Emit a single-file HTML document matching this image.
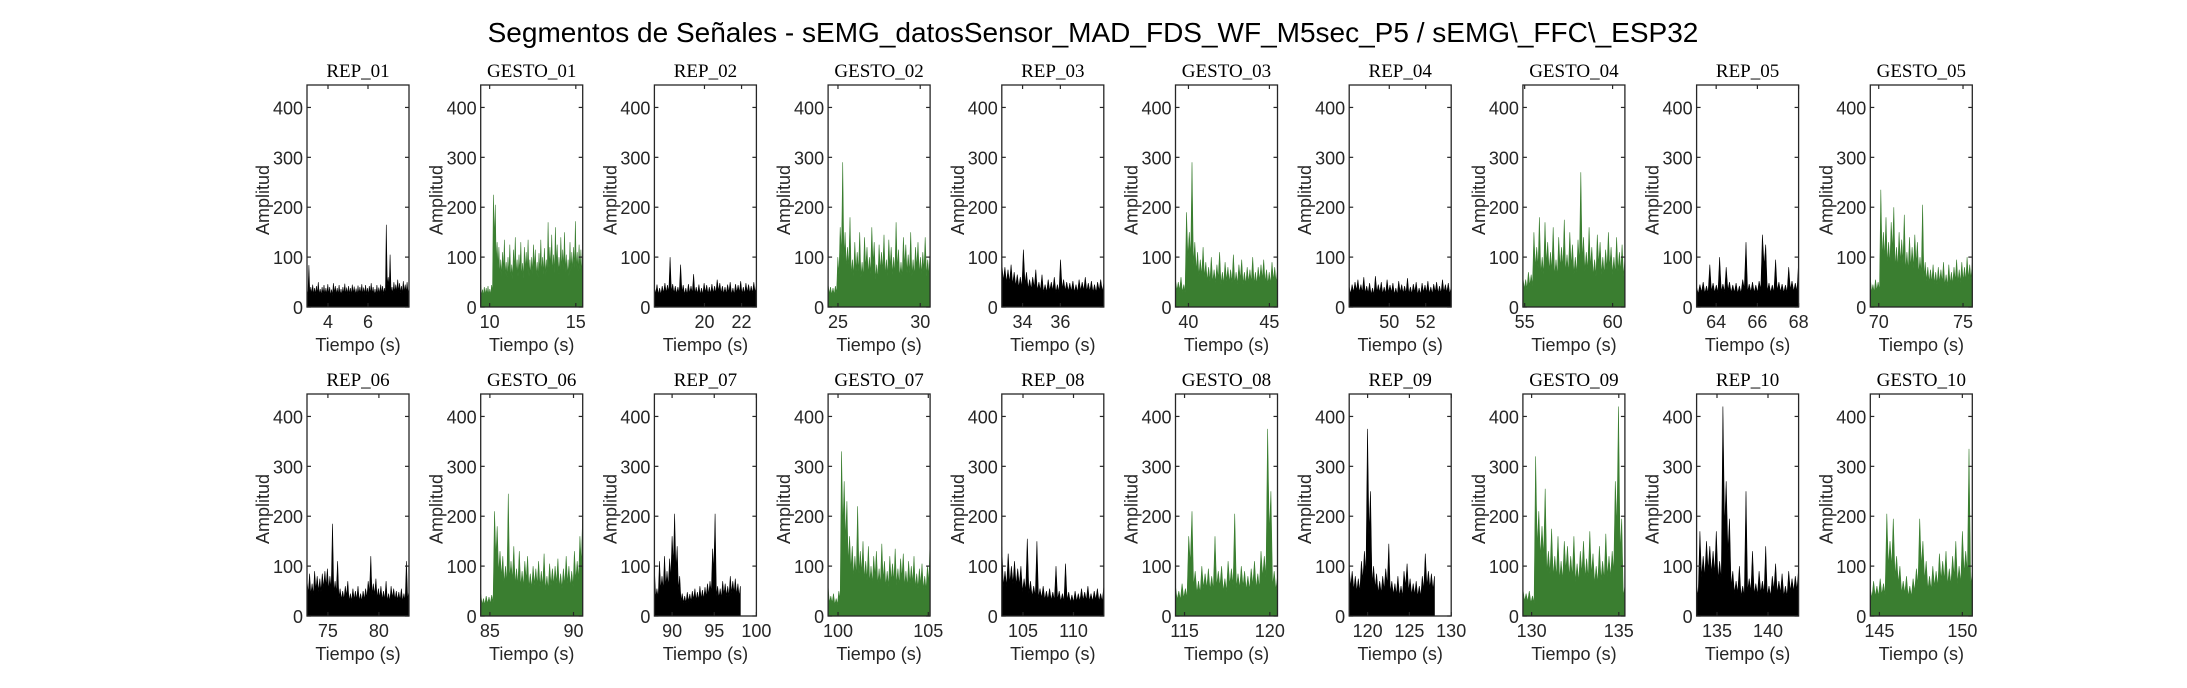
<!DOCTYPE html>
<html><head><meta charset="utf-8"><style>
html,body{margin:0;padding:0;background:#fff;}
svg{display:block;}
</style></head><body>
<svg id="fig" width="2187" height="688" xmlns="http://www.w3.org/2000/svg">
<text x="1093" y="42" text-anchor="middle" font-family="Liberation Sans, sans-serif" font-size="28" fill="#000">Segmentos de Señales - sEMG_datosSensor_MAD_FDS_WF_M5sec_P5 / sEMG\_FFC\_ESP32</text>
</svg>
<script>
const panelNames = ["REP_01","GESTO_01","REP_02","GESTO_02","REP_03","GESTO_03","REP_04","GESTO_04","REP_05","GESTO_05",
"REP_06","GESTO_06","REP_07","GESTO_07","REP_08","GESTO_08","REP_09","GESTO_09","REP_10","GESTO_10"];
const xLimits = [[2.95,8.05],[9.48,15.4],[17.3,22.8],[24.4,30.6],[32.9,38.3],[39.2,45.5],[47.8,53.4],[54.9,60.7],[63.05,68],[69.5,75.55],
[72.95,82.95],[84.45,90.55],[87.9,100],[99.45,105.1],[102.9,113],[114.47,120.45],[117.8,130],[129.5,135.35],[133,143],[144.45,150.6]];
const xTicks = [[4,6],[10,15],[20,22],[25,30],[34,36],[40,45],[50,52],[55,60],[64,66,68],[70,75],
[75,80],[85,90],[90,95,100],[100,105],[105,110],[115,120],[120,125,130],[130,135],[135,140],[145,150]];
const dataEnd = [null,null,null,null,null,null,null,null,null,null,null,null,98.1,null,null,null,128,null,null,null];
const yTicks = [0,100,200,300,400];
const yMax = 445;
const values = [
[35,84,40,45,38,42,50,36,40,44,38,46,40,35,48,42,38,44,36,40,47,39,42,38,45,41,37,43,40,46,39,44,38,42,48,40,36,44,39,45,42,38,165,60,105,40,50,45,55,48,42,52,45,50,40],
[45,35,40,38,42,36,44,225,205,130,120,95,110,135,90,100,125,85,115,140,95,105,130,88,120,110,135,95,100,125,115,90,108,135,100,118,95,170,120,145,105,160,125,100,140,115,150,105,95,130,110,120,172,110,125,115,105],
[40,45,38,42,48,44,100,46,42,40,85,44,38,46,42,66,40,45,38,48,44,40,46,42,55,48,42,40,45,50,38,46,44,52,40,48,45,42,50,44],
[45,40,38,42,100,160,290,150,120,180,95,130,110,150,90,140,120,100,160,130,85,125,110,145,95,135,120,100,170,115,90,140,125,105,150,95,120,130,100,110,140,95,120],
[90,80,75,85,70,65,60,115,70,55,60,75,50,65,45,55,50,60,45,95,55,50,48,52,45,55,50,60,48,52,45,50,55,48],
[55,50,60,45,190,150,290,130,110,95,120,90,80,100,75,85,110,70,90,80,75,105,70,85,95,70,80,75,100,70,80,85,95,75,70,90,80,75],
[40,45,50,55,45,60,42,48,38,62,45,50,40,55,44,48,38,52,45,42,58,40,46,50,38,48,44,52,40,46,50,42,55,45,48,40],
[60,55,70,65,150,120,180,100,170,130,110,160,95,140,120,175,105,150,125,100,135,270,140,110,160,120,95,145,130,100,115,150,120,100,140,110,125,95],
[40,45,50,42,85,48,44,100,46,80,50,44,48,42,55,130,46,50,44,52,145,125,48,44,95,50,46,44,80,52,48,90],
[60,45,55,50,235,150,180,130,170,200,120,150,135,185,110,140,120,145,130,100,205,90,80,75,85,70,80,75,90,65,85,70,80,95,75,90,80,100,85,90],
[70,85,65,90,80,75,85,90,95,80,185,70,110,55,50,60,70,45,55,50,60,45,50,55,70,120,65,75,55,60,50,70,45,60,55,50,48,55,45,110,50],
[45,35,40,38,42,210,180,130,120,100,245,110,140,95,130,90,110,120,85,100,95,110,90,125,80,105,95,100,115,85,95,120,100,90,130,110,160,205],
[95,55,110,80,120,90,115,160,205,140,80,45,40,48,44,50,55,48,60,52,58,65,70,135,205,60,55,70,65,60,80,70,75,65,60],
[60,40,45,35,50,330,270,230,160,140,120,220,130,150,110,140,100,120,130,95,145,110,90,120,105,135,95,115,125,90,110,100,120,85,95,105,80,100,155],
[140,90,125,100,110,95,100,75,155,70,60,150,55,60,50,55,48,100,50,45,105,48,42,50,45,55,48,60,45,50,55,45,58],
[60,50,65,55,160,210,90,70,100,85,95,80,160,90,100,75,110,95,205,85,100,90,80,95,110,85,130,120,375,250,90,80],
[95,90,80,75,110,130,375,250,100,85,70,80,95,145,70,65,80,60,90,105,75,65,70,60,80,125,90,85,80],
[55,45,50,40,320,210,180,255,130,175,120,160,110,150,140,120,160,105,130,150,115,170,125,100,140,110,165,120,130,270,420,195,60],
[60,170,120,150,140,130,170,110,420,270,195,90,70,100,60,250,75,130,65,90,70,140,60,80,105,70,85,60,90,75,80,95],
[55,70,60,75,65,205,150,195,120,100,70,80,60,75,95,195,150,110,80,100,90,125,110,130,95,120,150,100,170,130,335,90]
];

const NS = "http://www.w3.org/2000/svg";
const svg = document.getElementById('fig');
function mk(tag, attrs, parent){
  const e = document.createElementNS(NS, tag);
  for (const k in attrs) e.setAttribute(k, attrs[k]);
  (parent||svg).appendChild(e);
  return e;
}
const AX_W = 102, AX_H = 222, PITCH = 173.7, LEFT0 = 307, TOPS = [85, 394];
panelNames.forEach((name, i) => {
  const col = i % 10, row = Math.floor(i / 10);
  const L = LEFT0 + col * PITCH, T = TOPS[row], B = T + AX_H, R = L + AX_W;
  const [x0, x1] = xLimits[i];
  const sx = v => L + (v - x0) / (x1 - x0) * AX_W;
  const sy = v => B - v / yMax * AX_H;
  const green = name.startsWith('GESTO');
  const color = green ? '#3a7e30' : '#000';
  const g = mk('g', {});
  
  
  // signal area with narrow needle spikes
  const vals = values[i];
  const tEnd = dataEnd[i] !== null ? dataEnd[i] : x1;
  const dt = (tEnd - x0) / (vals.length - 1);
  let pts = [sx(x0).toFixed(1) + ',' + B];
  vals.forEach((v, k) => {
    const t = x0 + dt * k;
    pts.push(sx(t).toFixed(1) + ',' + sy(v).toFixed(1));
    if (k < vals.length - 1) {
      const low = Math.min(v, vals[k + 1]) * 0.65;
      pts.push(sx(t + dt * 0.5).toFixed(1) + ',' + sy(low).toFixed(1));
    }
  });
  pts.push(sx(tEnd).toFixed(1) + ',' + B);
  const area = mk('polygon', {points: pts.join(' '), fill: color, stroke: color, 'stroke-width': 0.6, 'stroke-linejoin': 'miter'}, g);
  
  
  const frame = mk('rect', {x: L, y: T, width: AX_W, height: AX_H, fill: 'none', stroke: '#262626', 'stroke-width': 1.3}, g);
  
  
  yTicks.forEach(v => {
    const y = sy(v);
    mk('line', {x1: L, x2: L + 4, y1: y, y2: y, stroke: '#262626', 'stroke-width': 1.2}, g);
    mk('line', {x1: R - 4, x2: R, y1: y, y2: y, stroke: '#262626', 'stroke-width': 1.2}, g);
    const t = mk('text', {x: L - 4, y: y + 7, 'text-anchor': 'end', 'font-family': 'Liberation Sans, sans-serif', 'font-size': 18, fill: '#262626'}, g);
    
    
    t.textContent = v;
  });
  xTicks[i].forEach(v => {
    const x = sx(v);
    mk('line', {x1: x, x2: x, y1: B, y2: B - 4, stroke: '#262626', 'stroke-width': 1.2}, g);
    mk('line', {x1: x, x2: x, y1: T, y2: T + 4, stroke: '#262626', 'stroke-width': 1.2}, g);
    const t = mk('text', {x: x, y: B + 21, 'text-anchor': 'middle', 'font-family': 'Liberation Sans, sans-serif', 'font-size': 18, fill: '#262626'}, g);
    
    
    t.textContent = v;
  });
  const xl = mk('text', {x: L + AX_W / 2, y: B + 44, 'text-anchor': 'middle', 'font-family': 'Liberation Sans, sans-serif', 'font-size': 18, fill: '#262626'}, g);
  
  
  xl.textContent = 'Tiempo (s)';
  const yx = L - 38, yy = T + AX_H / 2 + 4;
  const yl = mk('text', {x: yx, y: yy, transform: 'rotate(-90 ' + yx + ' ' + yy + ')', 'text-anchor': 'middle', 'font-family': 'Liberation Sans, sans-serif', 'font-size': 18, fill: '#262626'}, g);
  
  
  yl.textContent = 'Amplitud';
  const ti = mk('text', {x: L + AX_W / 2, y: T - 8, 'text-anchor': 'middle', 'font-family': 'Liberation Serif, serif', 'font-size': 19, fill: '#000'}, g);
  
  
  ti.textContent = name;
});
</script>
</body></html>
